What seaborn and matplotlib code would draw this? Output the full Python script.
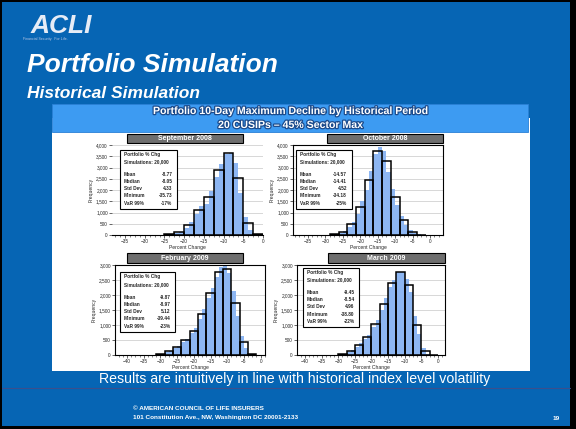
import numpy as np
import pandas as pd
import matplotlib
matplotlib.use("Agg")
import matplotlib.pyplot as plt
import matplotlib.patheffects as pe
from matplotlib.patches import Rectangle
from matplotlib.ticker import MultipleLocator, FuncFormatter
import seaborn as sns

sns.set_theme(style="ticks")
plt.rcParams["font.family"] = ["Liberation Sans", "DejaVu Sans"]

# ---- data ----
periods = ["September 2008", "October 2008", "February 2009", "March 2009"]
bin_width = 1.25
bin_start = [-25.0, -28.75, -31.25, -30.0]

counts_sep08 = [25, 50, 75, 150, 300, 600, 950, 1300, 1400, 1950, 2600, 3150,
                3620, 3630, 3200, 1850, 800, 225, 50]
counts_oct08 = [25, 50, 100, 200, 350, 600, 950, 1500, 2000, 2850, 3600, 3900,
                3750, 2800, 2050, 1350, 850, 450, 225, 75, 25]
counts_feb09 = [25, 50, 100, 150, 225, 300, 425, 550, 725, 900, 1200, 1550,
                1900, 2250, 2600, 2925, 3000, 2750, 2150, 1300, 650, 225, 50]
counts_mar09 = [25, 50, 100, 175, 275, 400, 525, 675, 925, 1175, 1500, 1900,
                2275, 2500, 2775, 2775, 2550, 2100, 1300, 700, 225, 50]

stat_labels = ["Mean", "Median", "Std Dev", "Minimum", "VaR 99%"]
stats_sep08 = ["-8.77", "-8.05", "4.33", "-35.73", "-17%"]
stats_oct08 = ["-14.57", "-14.41", "4.52", "-34.18", "-25%"]
stats_feb09 = ["-9.87", "-8.97", "5.12", "-39.44", "-23%"]
stats_mar09 = ["-9.45", "-8.54", "4.96", "-38.80", "-22%"]

header_lines = ["Portfolio 10-Day Maximum Decline by Historical Period",
                "20 CUSIPs \u2013 45% Sector Max"]

W, H = 576, 429
slide_blue = "#0665b4"
bar_blue = "#8db6f2"


def fx(x):
    return x / W


def fy(y):
    return 1 - y / H


def frect(x0, y0, x1, y1):
    return [fx(x0), fy(y1), (x1 - x0) / W, (y1 - y0) / H]


fig = plt.figure(figsize=(5.76, 4.29), dpi=100)
fig.patch.set_facecolor("black")

# slide background
fig.patches.append(Rectangle((fx(2), fy(426)), 568 / W, 424 / H,
                             transform=fig.transFigure, facecolor=slide_blue,
                             edgecolor="none", zorder=-3))
# white content panel
fig.patches.append(Rectangle((fx(52), fy(371)), 478 / W, 253 / H,
                             transform=fig.transFigure, facecolor="white",
                             edgecolor="none", zorder=-2))
# header bar
fig.patches.append(Rectangle((fx(52), fy(132)), 476 / W, 28 / H,
                             transform=fig.transFigure, facecolor="#3d9bf2",
                             edgecolor="#2a80d6", linewidth=0.6, zorder=1))
outline = [pe.withStroke(linewidth=1.8, foreground="#1b4b8c")]
fig.text(fx(290), fy(111), header_lines[0], color="white", fontsize=7.6,
         fontweight="bold", ha="center", va="center", path_effects=outline)
fig.text(fx(290), fy(125), header_lines[1], color="white", fontsize=7.6,
         fontweight="bold", ha="center", va="center", path_effects=outline)

# logo and titles
fig.text(fx(31), fy(33), "ACLI", color="#e6ecf6", fontsize=19,
         fontweight="bold", fontstyle="italic", va="baseline")
fig.text(fx(23), fy(40), "Financial Security.  For Life.", color="#b8c6e2",
         fontsize=2.6, va="baseline")
fig.text(fx(27), fy(72), "Portfolio Simulation", color="white", fontsize=19,
         fontweight="bold", fontstyle="italic", va="baseline")
fig.text(fx(27), fy(98), "Historical Simulation", color="white", fontsize=12.5,
         fontweight="bold", fontstyle="italic", va="baseline")

# footer
fig.text(fx(295), fy(379), "Results are intuitively in line with historical index level volatility",
         color="white", fontsize=10.2, ha="center", va="center", zorder=3,
         bbox=dict(boxstyle="square,pad=0.08", facecolor=slide_blue, edgecolor="none"))
fig.add_artist(plt.Line2D([fx(2), fx(570)], [fy(388), fy(388)],
                          transform=fig.transFigure, color="#3c4f8c", linewidth=0.8))
fig.text(fx(133), fy(408), "\u00a9 AMERICAN COUNCIL OF LIFE INSURERS", color="white",
         fontsize=4.6, fontweight="bold", va="center")
fig.text(fx(133), fy(418), "101 Constitution Ave., NW, Washington DC 20001-2133",
         color="white", fontsize=4.6, fontweight="bold", va="center")
fig.text(fx(553), fy(418), "19", color="white", fontsize=4.6, fontweight="bold",
         va="center")

panels = [
    dict(rect=(112, 145, 263, 235), title=(127, 134, 243, 143), xlim=(-38.3, 0),
         xt=(-35, 0), ymax=4000, box=(0.053, 0.29, 0.43, 0.944), frame=False),
    dict(rect=(293, 145, 443, 235), title=(327, 134, 443, 143), xlim=(-39.3, 3.7),
         xt=(-35, 0), ymax=4000, box=(0.02, 0.29, 0.39, 0.944), frame=True),
    dict(rect=(115, 265, 265, 355), title=(127, 253, 243, 263), xlim=(-43.6, 1.3),
         xt=(-40, 0), ymax=3000, box=(0.033, 0.255, 0.40, 0.92), frame=True),
    dict(rect=(297, 265, 445, 355), title=(328, 253, 445, 263), xlim=(-42.4, 2.1),
         xt=(-40, 0), ymax=3000, box=(0.04, 0.31, 0.42, 0.967), frame=True),
]
all_counts = [counts_sep08, counts_oct08, counts_feb09, counts_mar09]
all_stats = [stats_sep08, stats_oct08, stats_feb09, stats_mar09]

for i, p in enumerate(panels):
    ax = fig.add_axes(frect(*p["rect"]))
    ax.set_facecolor("white")
    counts = np.array(all_counts[i], dtype=float)
    edges = bin_start[i] + bin_width * np.arange(len(counts) + 1)
    df = pd.DataFrame({"chg": edges[:-1] + bin_width / 2,
                       "n": counts, "half": counts / 2})
    sns.histplot(data=df, x="chg", weights="n", bins=list(edges), color=bar_blue,
                 alpha=1, linewidth=0, ax=ax)
    coarse = bin_start[i] + 2 * bin_width * np.arange(len(counts) // 2 + 2)
    sns.histplot(data=df, x="chg", weights="half", bins=list(coarse), fill=False,
                 color="black", linewidth=1.1, ax=ax)

    ax.set_xlim(*p["xlim"])
    ax.set_ylim(0, p["ymax"])
    ax.set_xticks(np.arange(p["xt"][0], p["xt"][1] + 0.1, 5))
    ax.xaxis.set_minor_locator(MultipleLocator(1.25))
    ax.yaxis.set_major_locator(MultipleLocator(500))
    ax.yaxis.set_major_formatter(FuncFormatter(lambda v, _: f"{int(v):,}"))
    ax.grid(axis="y", color="#c8c8c8", linewidth=0.5)
    ax.set_axisbelow(True)
    ax.tick_params(labelsize=3.4, length=2, width=0.5, pad=1)
    ax.tick_params(which="minor", length=1.2, width=0.4)
    ax.set_xlabel("Percent Change", fontsize=3.6, labelpad=0.5)
    ax.set_ylabel("Frequency", fontsize=3.6, labelpad=2)
    for side, sp in ax.spines.items():
        sp.set_linewidth(0.8)
        sp.set_color("black")
        if not p["frame"] and side in ("top", "right", "left"):
            sp.set_visible(False)

    # stats box
    bx0, by0, bx1, by1 = p["box"]
    bw, bh = bx1 - bx0, by1 - by0
    ax.add_patch(Rectangle((bx0, by0), bw, bh, transform=ax.transAxes,
                           facecolor="white", edgecolor="black", linewidth=0.8,
                           zorder=5))
    tk = dict(transform=ax.transAxes, fontsize=3.4, fontweight="bold",
              va="center", zorder=6)
    ax.text(bx0 + 0.07 * bw, by1 - 0.08 * bh, "Portfolio % Chg", **tk)
    ax.text(bx0 + 0.07 * bw, by1 - 0.2 * bh, "Simulations: 20,000", **tk)
    for j, (lab, val) in enumerate(zip(stat_labels, all_stats[i])):
        yy = by1 - (0.42 + 0.12 * j) * bh
        ax.text(bx0 + 0.07 * bw, yy, lab, **tk)
        ax.text(bx0 + 0.92 * bw, yy, val, ha="right", **tk)

    # period title box
    tx0, ty0, tx1, ty1 = p["title"]
    fig.patches.append(Rectangle((fx(tx0), fy(ty1)), (tx1 - tx0) / W, (ty1 - ty0) / H,
                                 transform=fig.transFigure, facecolor="#6e6e6e",
                                 edgecolor="black", linewidth=0.8, zorder=2))
    fig.text(fx((tx0 + tx1) / 2), fy((ty0 + ty1) / 2), periods[i], color="white",
             fontsize=5, fontweight="bold", ha="center", va="center")

fig.savefig("out.png", dpi=100, facecolor=fig.get_facecolor())
